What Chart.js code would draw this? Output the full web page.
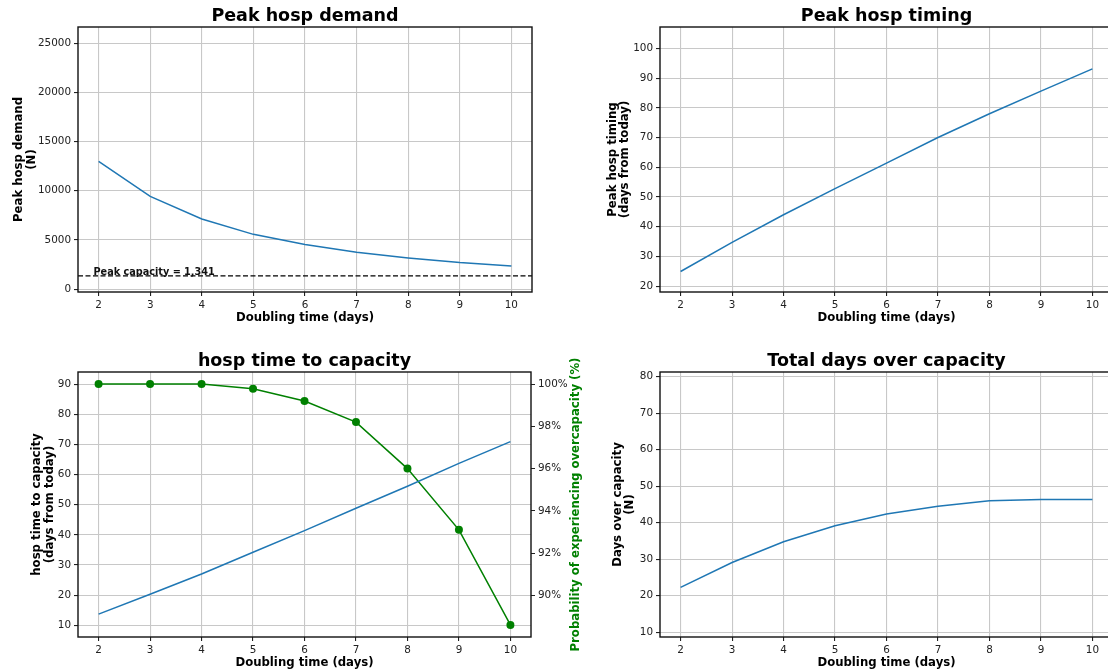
<!DOCTYPE html>
<html>
<head>
<meta charset="utf-8">
<script src="https://cdn.jsdelivr.net/npm/chart.js@4"></script>
<style>
  html, body { margin: 0; padding: 0; background: #fff; width: 1108px; height: 672px; overflow: hidden; }
  canvas { position: absolute; }
</style>
</head>
<body>
<canvas id="c1" width="554" height="336" style="left:0;top:0"></canvas>
<canvas id="c2" width="580" height="336" style="left:554px;top:0"></canvas>
<canvas id="c3" width="590" height="336" style="left:0;top:336px"></canvas>
<canvas id="c4" width="544" height="336" style="left:590px;top:336px"></canvas>
<script>
// values
const doubling = [2, 3, 4, 5, 6, 7, 8, 9, 10];
const peakDemand = [13000, 9430, 7130, 5570, 4530, 3750, 3170, 2700, 2360];
const peakCapacity = 1341;
const peakTiming = [24.9, 34.7, 44.0, 52.8, 61.4, 70.0, 78.0, 85.6, 93.1];
const timeToCapacity = [13.7, 20.3, 27.0, 34.2, 41.4, 48.8, 56.1, 63.7, 70.9];
const probOvercapacity = [100, 100, 100, 99.78, 99.2, 98.2, 96.0, 93.1, 88.6];
const daysOver = [22.3, 29.1, 34.8, 39.2, 42.4, 44.5, 46.0, 46.4, 46.4];

const demandTicks = [0, 5000, 10000, 15000, 20000, 25000];
const timingTicks = [20, 30, 40, 50, 60, 70, 80, 90, 100];
const capTicks = [10, 20, 30, 40, 50, 60, 70, 80, 90];
const probTicks = [90, 92, 94, 96, 98, 100];
const overTicks = [10, 20, 30, 40, 50, 60, 70, 80];

const FONT = "'DejaVu Sans', sans-serif";
const BLUE = '#1f77b4';
const GREEN = '#008000';
const GRID = '#c8c8c8';
Chart.defaults.font.family = FONT;
Chart.defaults.color = '#222';

function pts(ys) {
  return doubling.map((d, i) => ({ x: d, y: ys[i] }));
}

function setTicks(arr) {
  return function (scale) { scale.ticks = arr.map(v => ({ value: v })); };
}

// black frame around the plot area, like matplotlib spines
const frame = {
  id: 'frame',
  afterDraw(chart) {
    const a = chart.chartArea, ctx = chart.ctx;
    ctx.save();
    ctx.strokeStyle = '#111';
    ctx.lineWidth = 1.4;
    ctx.strokeRect(a.left, a.top, a.right - a.left, a.bottom - a.top);
    ctx.restore();
  }
};

function xAxis(h, padBottom) {
  return {
    type: 'linear', min: 1.6, max: 10.4,
    afterBuildTicks: setTicks(doubling),
    afterFit(s) { s.height = h; },
    grid: { color: GRID, tickColor: '#222', tickLength: 4, lineWidth: 1.1 },
    border: { display: false },
    ticks: { padding: 3, font: { size: 10.4 }, maxRotation: 0 },
    title: { display: true, text: 'Doubling time (days)', font: { size: 11.7, weight: 'bold', lineHeight: '14px' },
      color: '#000', padding: { top: 0, bottom: padBottom } }
  };
}

function yAxis(min, max, ticks, width, lines, padTop, fmt) {
  return {
    type: 'linear', position: 'left', min: min, max: max,
    afterBuildTicks: setTicks(ticks),
    afterFit(s) { s.width = width; },
    grid: { color: GRID, tickColor: '#222', tickLength: 4, lineWidth: 1.1 },
    border: { display: false },
    ticks: { padding: 3, font: { size: 10.4 }, callback: fmt || (v => v) },
    title: { display: true, text: lines, font: { size: 11.7, weight: 'bold', lineHeight: '12.5px' },
      color: '#000', padding: { top: padTop, bottom: 0 } }
  };
}

function title(text, padTop) {
  return {
    display: true, text: text, fullSize: false, color: '#000',
    font: { size: 17.5, weight: 'bold', lineHeight: '21px' },
    padding: { top: padTop, bottom: 0.5 }
  };
}

function blueLine(ys) {
  return { data: pts(ys), borderColor: BLUE, borderWidth: 1.5, pointRadius: 0, tension: 0, yAxisID: 'y' };
}

function baseOptions(t, padRight) {
  return {
    responsive: false, animation: false, devicePixelRatio: 1,
    layout: { padding: { left: 0, right: padRight, top: 0, bottom: 0 } },
    plugins: { legend: { display: false }, tooltip: { enabled: false }, title: t }
  };
}

// dashed capacity line with its label
const capacityLine = {
  id: 'capacityLine',
  afterDatasetsDraw(chart) {
    const a = chart.chartArea, ctx = chart.ctx;
    const y = chart.scales.y.getPixelForValue(peakCapacity);
    ctx.save();
    ctx.strokeStyle = '#000';
    ctx.lineWidth = 1.3;
    ctx.setLineDash([5, 2.5]);
    ctx.beginPath();
    ctx.moveTo(a.left, y);
    ctx.lineTo(a.right, y);
    ctx.stroke();
    ctx.fillStyle = '#111';
    ctx.font = 'bold 9.7px ' + FONT;
    ctx.textBaseline = 'alphabetic';
    ctx.fillText('Peak capacity = ' + peakCapacity.toLocaleString('en-US'),
      chart.scales.x.getPixelForValue(1.9), y - 0.5);
    ctx.restore();
  }
};

// green right-hand axis title, reading bottom to top
const rightTitle = {
  id: 'rightTitle',
  afterDraw(chart) {
    const a = chart.chartArea, ctx = chart.ctx;
    ctx.save();
    ctx.translate(a.right + 45, (a.top + a.bottom) / 2);
    ctx.rotate(-Math.PI / 2);
    ctx.fillStyle = GREEN;
    ctx.font = 'bold 11.7px ' + FONT;
    ctx.textAlign = 'center';
    ctx.textBaseline = 'middle';
    ctx.fillText('Probability of experiencing overcapacity (%)', 0, 0);
    ctx.restore();
  }
};

// top left
const o1 = baseOptions(title('Peak hosp demand', 5.5), 22);
o1.scales = {
  x: xAxis(44, 11),
  y: yAxis(-290, 26650, demandTicks, 78, ['Peak hosp demand', '(N)'], 13)
};
new Chart(document.getElementById('c1'), {
  type: 'line',
  data: { datasets: [blueLine(peakDemand)] },
  options: o1,
  plugins: [capacityLine, frame]
});

// top right
const o2 = baseOptions(title('Peak hosp timing', 5.5), 21);
o2.scales = {
  x: xAxis(44, 11),
  y: yAxis(18, 107.2, timingTicks, 106, ['Peak hosp timing', '(days from today)'], 52.5)
};
new Chart(document.getElementById('c2'), {
  type: 'line',
  data: { datasets: [blueLine(peakTiming)] },
  options: o2,
  plugins: [frame]
});

// bottom left, two y axes
const o3 = baseOptions(title('hosp time to capacity', 14.5), 0);
const y2 = yAxis(88.03, 100.57, probTicks, 59, '', 0, v => v + '%');
y2.position = 'right';
y2.title = { display: false };
y2.grid = { drawOnChartArea: false, tickColor: '#222', tickLength: 4 };
o3.scales = {
  x: xAxis(35, 2),
  y: yAxis(6.1, 94, capTicks, 78, ['hosp time to capacity', '(days from today)'], 31),
  y2: y2
};
new Chart(document.getElementById('c3'), {
  type: 'line',
  data: {
    datasets: [
      blueLine(timeToCapacity),
      { data: pts(probOvercapacity), borderColor: GREEN, backgroundColor: GREEN, borderWidth: 1.5,
        pointRadius: 4, pointBorderWidth: 0, tension: 0, yAxisID: 'y2' }
    ]
  },
  options: o3,
  plugins: [rightTitle, frame]
});

// bottom right
const o4 = baseOptions(title('Total days over capacity', 14.5), 21);
o4.scales = {
  x: xAxis(35, 2),
  y: yAxis(8.7, 81.3, overTicks, 70, ['Days over capacity', '(N)'], 21.5)
};
new Chart(document.getElementById('c4'), {
  type: 'line',
  data: { datasets: [blueLine(daysOver)] },
  options: o4,
  plugins: [frame]
});
</script>
</body>
</html>
